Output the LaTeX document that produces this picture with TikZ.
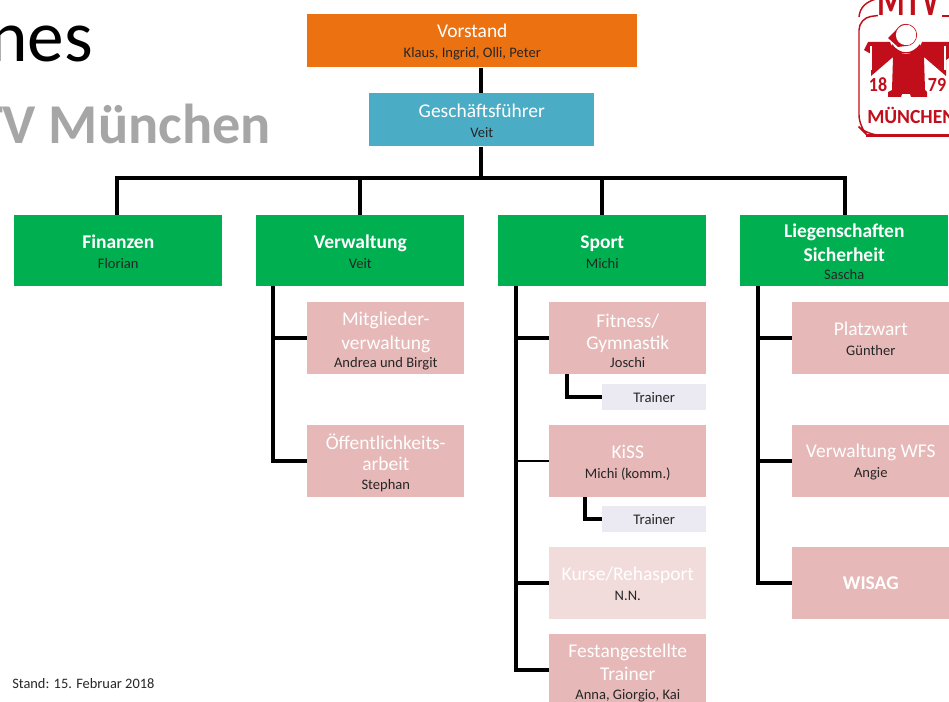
\documentclass[tikz,border=0pt]{standalone}
\usepackage{fontspec}
\setmainfont{Carlito}
\definecolor{orangeb}{HTML}{EC7211}
\definecolor{blueb}{HTML}{4BACC6}
\definecolor{greenb}{HTML}{00B050}
\definecolor{pinkb}{HTML}{E6B8B7}
\definecolor{paleb}{HTML}{F2DCDB}
\definecolor{lilacb}{HTML}{EBE9F1}
\definecolor{logored}{HTML}{C20E1A}
\definecolor{titlegray}{HTML}{A6A6A6}
\newcommand{\ttl}[1]{{\fontsize{14.6}{18}\selectfont\color{white}#1}}
\newcommand{\subt}[1]{{\fontsize{10.9}{13}\selectfont\color{black!85}#1}}
\newcommand{\lift}{\rule{0pt}{12pt}}
\newcommand{\liftb}{\rule{0pt}{14pt}}
\tikzset{
  orgbox/.style={inner sep=0pt,align=center,anchor=north west,minimum width=#1*0.75pt},
  topbox/.style={orgbox=#1,minimum height=53*0.75pt},
  greenbox/.style={orgbox=208,minimum height=71*0.75pt,fill=greenb},
  pinkbox/.style={orgbox=157,minimum height=71.5*0.75pt,fill=pinkb},
  trainerbox/.style={orgbox=104,minimum height=25.5*0.75pt,fill=lilacb,font=\fontsize{11}{13}\selectfont,text=black!85},
  wire/.style={draw=black,line width=3.2pt,line cap=butt,line join=miter},
  thinwire/.style={draw=black,line width=2pt,line cap=butt}
}
\begin{document}
\begin{tikzpicture}[x=0.75pt,y=-0.75pt]
\useasboundingbox (0,0) rectangle (949,702);
\clip (0,0) rectangle (949,702);
% titles
\node[anchor=base east,inner sep=0pt,font=\fontsize{55}{60}\selectfont] (t1) at (93,62) {nes};
\node[anchor=base east,inner sep=0pt,font=\fontsize{42.2}{48}\selectfont\bfseries,text=titlegray] (t2) at (271,144) {TV München};
\node[anchor=base west,inner sep=0pt,font=\fontsize{10.8}{12}\selectfont,text=black!85] (stand) at (12,688) {Stand: 15. Februar 2018};
% boxes
\node[topbox=330,fill=orangeb] (vor) at (307,14) {\lift\ttl{Vorstand}\\[3pt]\subt{Klaus, Ingrid, Olli, Peter}};
\node[topbox=225,fill=blueb] (gf) at (369,93) {\lift\ttl{Geschäftsführer}\\[3pt]\subt{Veit}};
\node[greenbox] (fin) at (14,215) {\lift\ttl{\bfseries Finanzen}\\[3pt]\subt{Florian}};
\node[greenbox] (ver) at (256,215) {\lift\ttl{\bfseries Verwaltung}\\[3pt]\subt{Veit}};
\node[greenbox] (spo) at (498,215) {\lift\ttl{\bfseries Sport}\\[3pt]\subt{Michi}};
\node[greenbox] (lie) at (740,215) {\lift\ttl{\bfseries Liegenschaften}\\[4pt]\ttl{\bfseries Sicherheit}\\[2pt]\subt{Sascha}};
\node[pinkbox] (mit) at (307,302) {\liftb\ttl{Mitglieder-}\\[5pt]\ttl{verwaltung}\\[1pt]\subt{Andrea und Birgit}};
\node[pinkbox] (oef) at (307,425) {\liftb\ttl{Öffentlichkeits-}\\[4pt]\ttl{arbeit}\\[2pt]\subt{Stephan}};
\node[pinkbox] (fit) at (549,302) {\liftb\ttl{Fitness/}\\[5pt]\ttl{Gymnastik}\\[1pt]\subt{Joschi}};
\node[pinkbox] (kis) at (549,425) {\lift\ttl{KiSS}\\[3pt]\subt{Michi (komm.)}};
\node[pinkbox,fill=paleb] (kur) at (549,547) {\lift\ttl{Kurse/Rehasport}\\[3pt]\subt{N.N.}};
\node[pinkbox] (fes) at (549,634) {\liftb\ttl{Festangestellte}\\[4pt]\ttl{Trainer}\\[2pt]\subt{Anna, Giorgio, Kai}};
\node[pinkbox] (pla) at (792,302) {\lift\ttl{Platzwart}\\[3pt]\subt{Günther}};
\node[pinkbox] (wfs) at (792,425) {\lift\ttl{Verwaltung WFS}\\[3pt]\subt{Angie}};
\node[pinkbox] (wis) at (792,547) {\ttl{\bfseries WISAG}};
\node[trainerbox] (tr1) at (602,384) {Trainer};
\node[trainerbox] (tr2) at (602,506) {Trainer};
% connector anchor points
\coordinate (bus) at (481,178);
\coordinate (busl) at (117,178);
\coordinate (busr) at (845,178);
\coordinate (vs) at (273,286);
\coordinate (ss) at (516,286);
\coordinate (ls) at (758,286);
\coordinate (f1) at (567,374);
\coordinate (k1) at (585,497);
% connectors
\draw[wire] (vor.south -| bus) -- (gf.north -| bus);
\draw[wire] (gf.south -| bus) -- (bus);
\draw[wire,line cap=rect] (busl) -- (busr);
\draw[wire] (busl) -- (fin.north -| busl);
\draw[wire] (ver.north |- bus) -- (ver.north);
\draw[wire] (spo.north |- bus) -- (spo.north);
\draw[wire] (busr) -- (lie.north -| busr);
\draw[wire] (vs) |- (mit.west);
\draw[wire] (vs) |- (oef.west);
\draw[wire] (ss) |- (fit.west);
\draw[thinwire] (ss) |- (kis.west);
\draw[wire] (ss) |- (kur.west);
\draw[wire] (ss) |- (fes.west);
\draw[wire] (ls) |- (pla.west);
\draw[wire] (ls) |- (wfs.west);
\draw[wire] (ls) |- (wis.west);
\draw[thinwire,line width=2.4pt] (f1) |- (tr1.west);
\draw[wire] (k1) |- (tr2.west);
% logo
\begin{scope}[logored]
\draw[line width=1.1pt,rounded corners=9pt] (949,135) -- (867,135) -- (859,127) -- (859,18) -- (878,15.5);
\draw[line width=1.1pt] (859,17) .. controls (860,7) and (866,2) .. (876,-1);
\draw[line width=1.1pt] (942,16) -- (949,16);
\draw[line width=1.8pt] (866,135.5) -- (949,135.5);
\node[anchor=base,inner sep=0pt,font=\fontsize{36}{36}\selectfont\bfseries,text=logored,xscale=0.66] (logotop) at (909,15.5) {MTV};
% figure
\fill (864,50) -- (868,42) -- (949,42) -- (949,58) -- (946,60) -- (946,76) -- (924,57)
      -- (925,90) -- (927,92) -- (927,97) -- (911,97) -- (910,94) -- (902,94) -- (901,97)
      -- (888,97) -- (888,92) -- (892,90) -- (893,57) -- (871,76) -- (871,54) -- cycle;
\fill[white] (906,37) circle (12.5pt);
\fill[logored] (906,37) ++(-14,7) .. controls (900,55) and (912,55) .. (920,44) -- (922,53) -- (890,53) -- cycle;
\fill[white] (893,43.5) .. controls (898,50) and (914,50) .. (919,43.5) -- (919,41) -- (893,41) -- cycle;
\fill (888,38) -- (901,25) -- (906,24) -- (906,46) -- (898,47) -- cycle;
\draw[line width=0.6pt] (906,35) circle (8pt);
\fill[white] (906,35) circle (7.6pt);
\draw[white,line width=0.8pt] (871,46) -- (871,70);
\draw[white,line width=0.8pt] (945,46) -- (945,70);
\node[anchor=base,inner sep=0pt,font=\fontsize{15}{16}\selectfont\bfseries,text=logored,xscale=0.9] (logo18) at (878,92) {18};
\node[anchor=base,inner sep=0pt,font=\fontsize{15}{16}\selectfont\bfseries,text=logored,xscale=0.9] (logo79) at (937,92) {79};
\node[anchor=base west,inner sep=0pt,font=\fontsize{15}{16}\selectfont\bfseries,text=logored,xscale=0.98] (logomu) at (867,124) {MÜNCHEN};
\end{scope}
\end{tikzpicture}
\end{document}
